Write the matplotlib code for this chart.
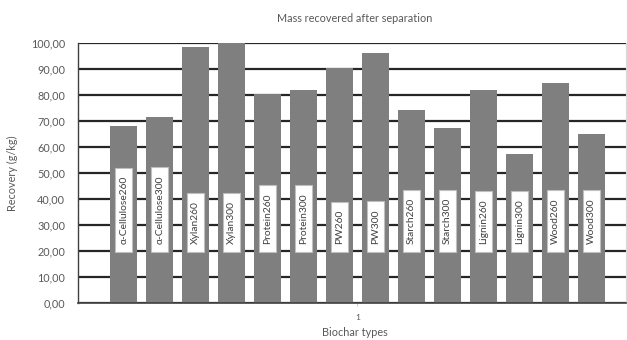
import matplotlib
matplotlib.use("Agg")
import matplotlib.pyplot as plt
from matplotlib.patches import Rectangle
from matplotlib.ticker import FuncFormatter

plt.rcParams['font.family'] = ['Lato', 'DejaVu Sans']

categories = ["α-Cellulose260", "α-Cellulose300", "Xylan260", "Xylan300",
              "Protein260", "Protein300", "PW260", "PW300",
              "Starch260", "Starch300", "Lignin260", "Lignin300",
              "Wood260", "Wood300"]
recovery = [68.0, 71.6, 98.2, 99.8, 80.2, 81.8, 90.3, 96.2,
            74.2, 67.4, 81.8, 57.3, 84.4, 64.8]
y_ticks = [0, 10, 20, 30, 40, 50, 60, 70, 80, 90, 100]
x_tick_labels = ["1"]

W, H = 627, 340
fig = plt.figure(figsize=(W / 100, H / 100), dpi=100)
ax = fig.add_axes([77.5 / W, 1 - 303.3 / H, (626 - 77.5) / W, (303.3 - 42.7) / H])

text_grey = '#595959'
x = list(range(len(categories)))

ax.set_axisbelow(True)
ax.yaxis.grid(True, color='#262626', linewidth=1.6)
ax.bar(x, recovery, width=0.75, color='#7f7f7f', zorder=2)

ax.set_xlim(-1.284, 13.965)
ax.set_ylim(0, 100)
ax.set_yticks(y_ticks)
ax.yaxis.set_major_formatter(FuncFormatter(lambda v, p: f"{v:.2f}".replace('.', ',')))
ax.set_xticks([(len(categories) - 1) / 2])
ax.set_xticklabels(x_tick_labels)
ax.tick_params(axis='y', length=0, pad=9, labelsize=7.8, labelcolor=text_grey)
ax.tick_params(axis='x', length=2, width=0.6, color='#bfbfbf', pad=6,
               labelsize=6, labelcolor=text_grey)

ax.spines['top'].set_visible(False)
ax.spines['right'].set_color('#d9d9d9')
ax.spines['right'].set_linewidth(0.8)
ax.spines['left'].set_color('#404040')
ax.spines['left'].set_linewidth(1.0)
ax.spines['bottom'].set_color('#404040')
ax.spines['bottom'].set_linewidth(1.2)

# category names as rotated labels inside each bar
labels = []
for xi, name in zip(x, categories):
    t = ax.text(xi, 22.8, name, rotation=90, ha='center', va='bottom',
                fontsize=7.4, color='#404040', zorder=4)
    labels.append(t)

fig.canvas.draw()
renderer = fig.canvas.get_renderer()
inv = ax.transData.inverted()
pad_x, pad_y = 4.0, 8.0
for t in labels:
    bb = t.get_window_extent(renderer)
    (x0, y0) = inv.transform((bb.x0 - pad_x, bb.y0 - pad_y))
    (x1, y1) = inv.transform((bb.x1 + pad_x, bb.y1 + pad_y))
    ax.add_patch(Rectangle((x0, y0), x1 - x0, y1 - y0, facecolor='white',
                           edgecolor='#bfbfbf', linewidth=0.8, zorder=3))

ax.set_ylabel("Recovery (g/kg)", fontsize=7.8, color=text_grey)
ax.yaxis.set_label_coords(-(77.5 - 18) / (626 - 77.5), 0.5)
fig.text(355 / W, 1 - 18 / H, "Mass recovered after separation", ha='center',
         va='center', fontsize=7.8, color=text_grey)
fig.text(355 / W, 1 - 332 / H, "Biochar types", ha='center', va='center',
         fontsize=7.8, color=text_grey)

fig.savefig("out.png", dpi=100)
